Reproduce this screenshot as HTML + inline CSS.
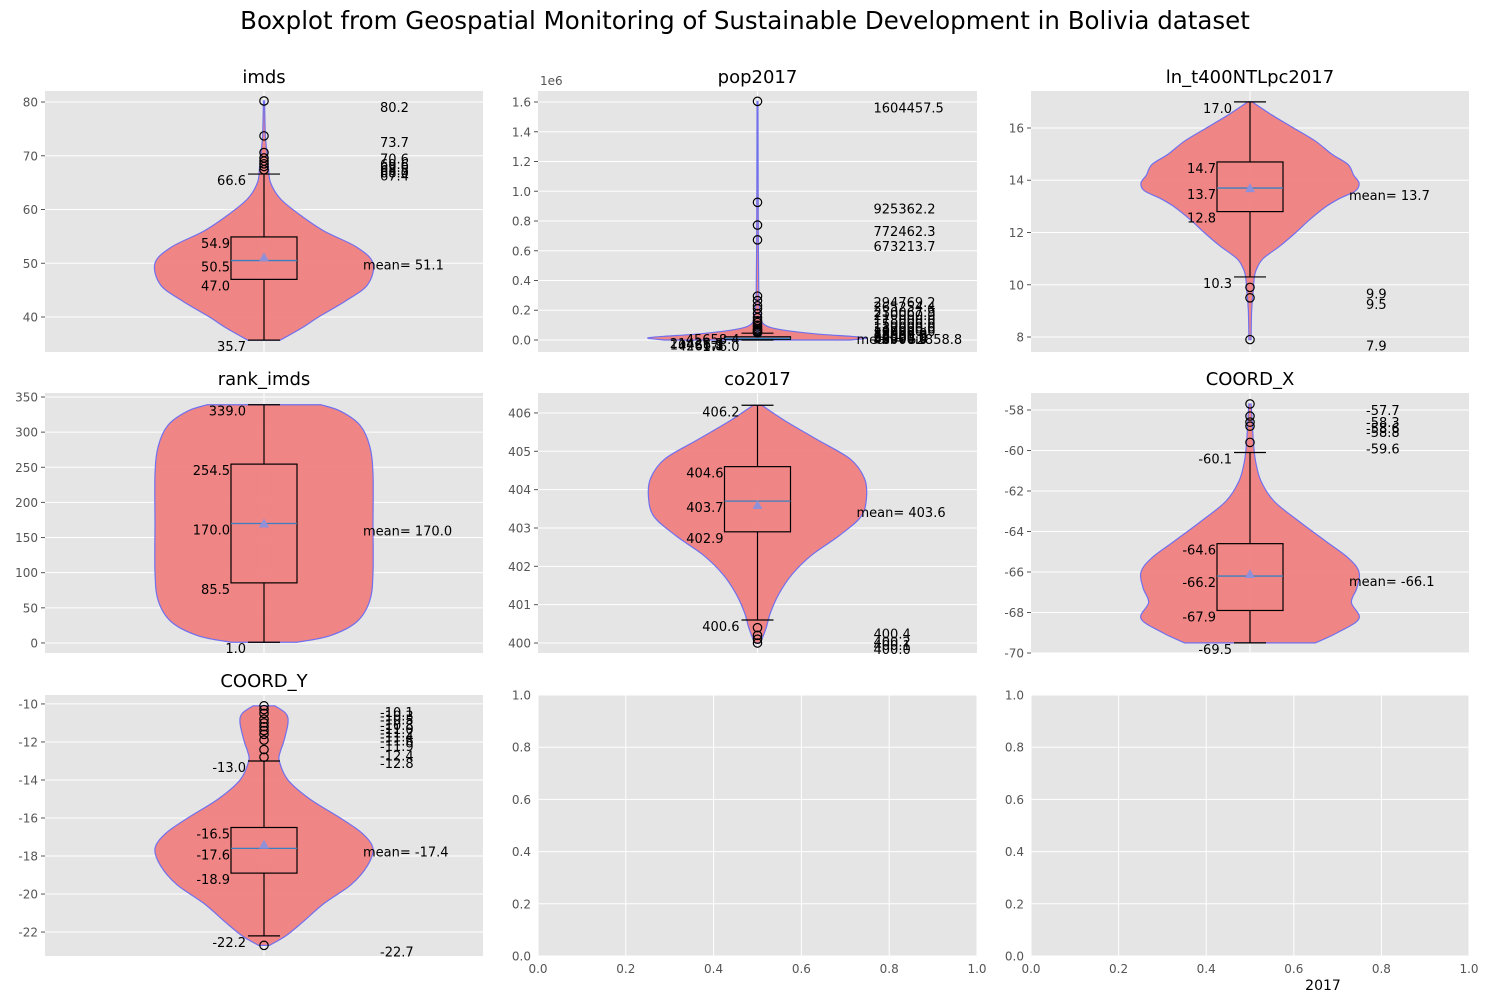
<!DOCTYPE html>
<html><head><meta charset="utf-8">
<style>
html,body{margin:0;padding:0;background:#fff;}
svg text{font-family:"DejaVu Sans","Liberation Sans",sans-serif;}
</style></head>
<body>
<svg id="fig" width="1489" height="1003" xmlns="http://www.w3.org/2000/svg">
<text x="745" y="29" font-size="24.5" text-anchor="middle" fill="#000">Boxplot from Geospatial Monitoring of Sustainable Development in Bolivia dataset</text>
</svg>
<script>
// ---- data arrays ----
// stats: [whiskerLo, q1, median, q3, whiskerHi, mean]
const imdsStats=[35.7,47.0,50.5,54.9,66.6,51.1];
const imdsOutliers=[67.4,68.0,68.5,69.0,69.6,70.6,73.7,80.2];
const imdsDensY=[35.7,38,40,43,46,50,53,56,59,62,65,68,71,74,80.2];
const imdsDensW=[0.15,0.35,0.5,0.75,0.95,1.0,0.85,0.55,0.33,0.15,0.06,0.04,0.025,0.012,0.005];
const imdsTicks=[40,50,60,70,80];

const popStats=[176.0,4261.8,10466.1,21425.3,45658.4,52858.8];
const popOutliers=[48000,52000,58000,66000,75000,88000,100000,117000,130000,150000,178000,210000,230067.9,265254.4,294769.2,673213.7,772462.3,925362.2,1604457.5];
const popDensY=[176,8000,15000,25000,40000,60000,80000,100000,130000,200000,300000,600000,1000000,1604457.5];
const popDensW=[0.85,0.97,1.0,0.85,0.55,0.3,0.14,0.07,0.035,0.02,0.012,0.008,0.006,0.004];
const popTicks=[0,200000,400000,600000,800000,1000000,1200000,1400000,1600000];
const popTickLabels=["0.0","0.2","0.4","0.6","0.8","1.0","1.2","1.4","1.6"];

const lnStats=[10.3,12.8,13.7,14.7,17.0,13.7];
const lnOutliers=[9.9,9.5,7.9];
const lnDensY=[7.9,9,9.8,10.3,10.6,11,11.5,12,12.5,13,13.3,13.6,13.9,14.2,14.6,15,15.5,16,16.5,17];
const lnDensW=[0.01,0.015,0.03,0.04,0.06,0.12,0.28,0.42,0.55,0.7,0.82,0.97,1.0,0.95,0.9,0.75,0.6,0.4,0.2,0.02];
const lnTicks=[8,10,12,14,16];

const rankStats=[1.0,85.5,170.0,254.5,339.0,170.0];
const rankOutliers=[];
const rankDensY=[1,10,30,60,100,170,240,280,310,330,339];
const rankDensW=[0.3,0.6,0.85,0.97,1.0,1.0,1.0,0.97,0.88,0.7,0.52];
const rankTicks=[0,50,100,150,200,250,300,350];

const coStats=[400.6,402.9,403.7,404.6,406.2,403.6];
const coOutliers=[400.4,400.2,400.1,400.0];
const coDensY=[400.0,400.1,400.4,400.8,401.3,401.8,402.3,402.8,403.3,403.8,404.3,404.8,405.3,405.8,406.2];
const coDensW=[0.02,0.04,0.08,0.12,0.2,0.32,0.5,0.75,0.95,1.0,0.98,0.85,0.55,0.25,0.04];
const coTicks=[400,401,402,403,404,405,406];

const cxStats=[-69.5,-67.9,-66.2,-64.6,-60.1,-66.1];
const cxOutliers=[-59.6,-58.8,-58.6,-58.3,-57.7];
const cxDensY=[-69.5,-69,-68.3,-67.5,-66.8,-66,-65.3,-64.5,-63.5,-62.5,-61.5,-60.5,-59.5,-58.5,-57.7];
const cxDensW=[0.6,0.8,1.0,0.93,0.98,1.0,0.9,0.7,0.45,0.22,0.1,0.05,0.03,0.02,0.01];
const cxTicks=[-70,-68,-66,-64,-62,-60,-58];

const cyStats=[-22.2,-18.9,-17.6,-16.5,-13.0,-17.4];
const cyOutliers=[-22.7,-12.8,-12.4,-11.9,-11.6,-11.4,-11.2,-11.0,-10.8,-10.5,-10.3,-10.1];
const cyDensY=[-22.7,-22.2,-21.5,-20.5,-19.5,-18.5,-17.6,-16.8,-16,-15,-14,-13,-12.5,-12,-11,-10.5,-10.1];
const cyDensW=[0.05,0.2,0.35,0.55,0.8,0.95,1.0,0.9,0.7,0.42,0.22,0.14,0.15,0.18,0.22,0.2,0.1];
const cyTicks=[-22,-20,-18,-16,-14,-12,-10];

const emptyTicks=[0,0.2,0.4,0.6,0.8,1.0];
const emptyTickLabels=["0.0","0.2","0.4","0.6","0.8","1.0"];

// ---- rendering ----
const NS="http://www.w3.org/2000/svg";
const svg=document.getElementById('fig');
function mk(tag,attrs,parent){const e=document.createElementNS(NS,tag);for(const k in attrs)e.setAttribute(k,attrs[k]);(parent||svg).appendChild(e);return e;}
function txt(parent,x,y,s,size,anchor,fill){const t=mk('text',{x:x,y:y,'font-size':size,'text-anchor':anchor||'start',fill:fill||'#000'},parent);t.textContent=s;return t;}
function fmt1(v){return v.toFixed(1);}
function smoothPath(pts){let d='M'+pts[0][0]+','+pts[0][1];for(let i=0;i<pts.length-1;i++){const p0=pts[i-1]||pts[i],p1=pts[i],p2=pts[i+1],p3=pts[i+2]||p2;const c1=[p1[0]+(p2[0]-p0[0])/6,p1[1]+(p2[1]-p0[1])/6];const c2=[p2[0]-(p3[0]-p1[0])/6,p2[1]-(p3[1]-p1[1])/6];d+=' C'+c1[0]+','+c1[1]+' '+c2[0]+','+c2[1]+' '+p2[0]+','+p2[1];}return d;}

function panel(name,title,box,ylim,ticks,tickLabels,stats,outliers,densY,densW){
  const [L,T,W,H]=box;
  const g=mk('g',{});
  
  
  const bg=mk('rect',{x:L,y:T,width:W,height:H,fill:'#e5e5e5'},g);
  
  
  const y=v=>T+(ylim[1]-v)/(ylim[1]-ylim[0])*H;
  const cx=L+W/2;
  ticks.forEach((t,i)=>{const py=y(t);
    const gl=mk('line',{x1:L,x2:L+W,y1:py,y2:py,stroke:'#fff','stroke-width':1},g);
    
    
    const tl=txt(g,L-7,py+4.5,tickLabels?tickLabels[i]:String(t),12,'end','#555');
    
    
    mk('line',{x1:L-4,x2:L,y1:py,y2:py,stroke:'#555'},g);
  });
  const vg=mk('line',{x1:cx,x2:cx,y1:T,y2:T+H,stroke:'#fff','stroke-width':1},g);
  
  
  const tt=txt(g,cx,T-8,title,18,'middle');
  
  
  // violin
  const maxHalf=109;
  const right=densY.map((v,i)=>[cx+densW[i]*maxHalf,y(v)]);
  const left=densY.map((v,i)=>[cx-densW[i]*maxHalf,y(v)]).reverse();
  const lp=smoothPath(left);
  const d=smoothPath(right)+' L'+left[0][0]+','+left[0][1]+lp.slice(lp.indexOf(' C'))+' Z';
  const vio=mk('path',{d:d,fill:'#f08080','fill-opacity':0.95,stroke:'#7070ee','stroke-width':1.2},g);
  
  
  // box
  const [lo,q1,med,q3,hi,mean]=stats;
  const bh=33,ch=16;
  const w1=mk('line',{x1:cx,x2:cx,y1:y(lo),y2:y(q1),stroke:'#000','stroke-width':1.2},g);
  
  
  const w2=mk('line',{x1:cx,x2:cx,y1:y(q3),y2:y(hi),stroke:'#000','stroke-width':1.2},g);
  
  
  [lo,hi].forEach(v=>{const c=mk('line',{x1:cx-ch,x2:cx+ch,y1:y(v),y2:y(v),stroke:'#000','stroke-width':1.2},g);
    
    });
  const bx=mk('rect',{x:cx-bh,y:y(q3),width:2*bh,height:Math.max(1,y(q1)-y(q3)),fill:'none',stroke:'#000','stroke-width':1.2},g);
  
  
  const ml=mk('line',{x1:cx-bh,x2:cx+bh,y1:y(med),y2:y(med),stroke:'#3a80c0','stroke-width':1.3},g);
  
  
  const my=y(mean);
  const mm=mk('path',{d:`M${cx},${my-5} L${cx+5},${my+4} L${cx-5},${my+4} Z`,fill:'#9090d8'},g);
  
  
  outliers.forEach(v=>{const c=mk('circle',{cx:cx,cy:y(v),r:4.2,fill:'none',stroke:'#000','stroke-width':1.2},g);
    
    
    const l=txt(g,cx+116,y(v)+11,fmt1(v),13);
    
    });
  [lo,hi].forEach(v=>{const l=txt(g,cx-18,y(v)+11,fmt1(v),13,'end');
    
    });
  [q1,med,q3].forEach(v=>{const l=txt(g,cx-34,y(v)+11,fmt1(v),13,'end');
    
    });
  const mlab=txt(g,cx+99,my+12,'mean= '+fmt1(mean),13);
  
  
  return g;
}

function emptyPanel(name,box){
  const [L,T,W,H]=box;
  const g=mk('g',{});
  
  
  mk('rect',{x:L,y:T,width:W,height:H,fill:'#e5e5e5'},g);
  emptyTicks.forEach((t,i)=>{
    const px=L+t*W, py=T+H-t*H;
    const gx=mk('line',{x1:px,x2:px,y1:T,y2:T+H,stroke:'#fff'},g);
    
    
    const gy=mk('line',{x1:L,x2:L+W,y1:py,y2:py,stroke:'#fff'},g);
    
    
    const xl=txt(g,px,T+H+17,emptyTickLabels[i],12,'middle','#555');
    
    
    const yl=txt(g,L-7,py+4.5,emptyTickLabels[i],12,'end','#555');
    
    
  });
}

panel('imds','imds',[45,91,438,261],[33.49,82.05],imdsTicks,null,imdsStats,imdsOutliers,imdsDensY,imdsDensW);
panel('pop2017','pop2017',[538,91,439,261],[-80700,1674000],popTicks,popTickLabels,popStats,popOutliers,popDensY,popDensW);
panel('ln-ntl','ln_t400NTLpc2017',[1031,91,438,261],[7.426,17.416],lnTicks,null,lnStats,lnOutliers,lnDensY,lnDensW);
panel('rank-imds','rank_imds',[45,393,438,260],[-14.3,355.7],rankTicks,null,rankStats,rankOutliers,rankDensY,rankDensW);
panel('co2017','co2017',[538,393,439,260],[399.74,406.52],coTicks,null,coStats,coOutliers,coDensY,coDensW);
panel('coord-x','COORD_X',[1031,393,438,260],[-70,-57.16],cxTicks,null,cxStats,cxOutliers,cxDensY,cxDensW);
panel('coord-y','COORD_Y',[45,695,438,261],[-23.26,-9.53],cyTicks,null,cyStats,cyOutliers,cyDensY,cyDensW);
emptyPanel('empty-panel-middle',[538,695,439,261]);
emptyPanel('empty-panel-right',[1031,695,438,261]);

const off=txt(svg,540,85,'1e6',12,'start','#555');


const xl=txt(svg,1323,990,'2017',14,'middle','#000');


</script>
</body></html>
